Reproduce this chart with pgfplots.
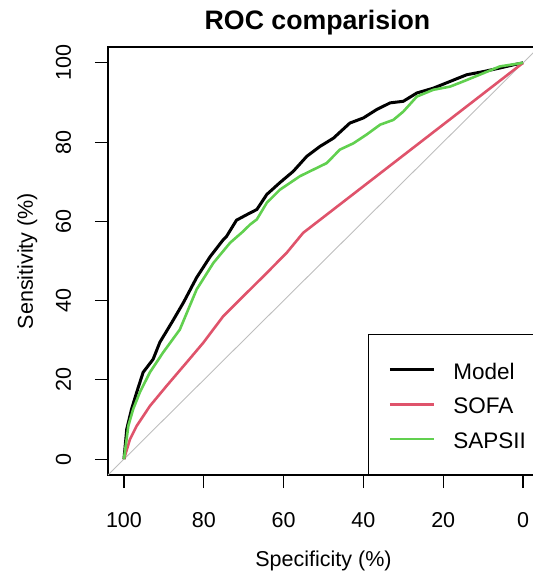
\documentclass[border=0pt]{standalone}
\usepackage{pgfplots}
\pgfplotsset{compat=1.18}
\usepackage{fontspec}
\setmainfont{Liberation Sans}
\definecolor{rred}{HTML}{DF536B}
\definecolor{rgreen}{HTML}{61D04F}
\definecolor{rgrey}{HTML}{BEBEBE}
\begin{document}
\begin{tikzpicture}[x=1pt,y=1pt]
\begin{axis}[
  at={(108pt,102pt)}, anchor=south west,
  scale only axis, width=431pt, height=428pt,
  xmin=-4, xmax=104, ymin=-4, ymax=104,
  x dir=reverse,
  axis line style={line width=1.2pt},
  xtick={100,80,60,40,20,0}, ytick={0,20,40,60,80,100},
  xtick pos=bottom, ytick pos=left,
  tick align=outside, major tick length=13pt,
  every tick/.style={black, line width=1.2pt},
  /pgf/number format/assume math mode=true,
  ticklabel style={font=\fontsize{21.5}{25}\selectfont},
  xticklabel style={anchor=base, yshift=-39pt},
  yticklabel style={rotate=90, anchor=base, yshift=24pt},
  xlabel={Specificity (\%)},
  ylabel={Sensitivity (\%)},
  label style={font=\fontsize{21.5}{25}\selectfont},
  xlabel style={at={(axis description cs:0.5,0)}, anchor=base, yshift=-91pt},
  ylabel style={at={(axis description cs:0,0.5)}, anchor=base, yshift=75pt},
  title={ROC comparision},
  title style={at={(axis description cs:0.486,1)}, anchor=base, yshift=11.5pt, font=\fontsize{26.7}{30}\selectfont\bfseries},
  legend cell align=left,
  legend image code/.code={\path (0pt,0pt); \draw[#1] (7pt,0pt) -- (51pt,0pt);},
  legend style={at={(axis description cs:1,0)}, anchor=south east, draw=black, line width=1.1pt,
    fill=white, inner xsep=12.5pt, inner ysep=20pt, row sep=3.5pt,
    font=\fontsize{22.5}{26}\selectfont,
    nodes={inner sep=0pt, text height=24.8pt, text depth=6.2pt},
    /tikz/every odd column/.append style={column sep=18pt}},
]
\addplot[rgrey, line width=0.9pt, forget plot] coordinates {(104,-4) (-4,104)};
\addplot[black, line width=3pt] coordinates {
(100,0) (99.3,7.6) (98.1,12.6) (96.8,16.9) (95.2,21.9) (92.7,25.2) (91.0,29.5)
(88.0,34.5) (85.1,39.5) (81.8,45.8) (78.4,51.1) (75.1,55.4) (74.3,56.2) (71.8,60.3)
(69.2,61.7) (66.7,63.0) (64.2,66.8) (60.9,69.8) (57.6,72.6) (54.2,76.4) (50.9,78.9)
(47.5,81.0) (43.4,84.8) (40.0,86.1) (36.7,88.2) (33.3,89.9) (30.0,90.3) (26.6,92.4)
(22.5,93.6) (18.3,95.3) (14.1,97.0) (9.9,97.8) (5.8,98.7) (2.4,99.5) (0,100)};
\addlegendentry{Model}
\addplot[rred, line width=2.6pt] coordinates {
(100,0) (98.5,5.0) (96.8,8.4) (93.5,13.4) (89.3,18.5) (84.3,24.4) (80.1,29.4)
(75.1,36.1) (70.1,41.1) (64.2,47.0) (59.2,52.1) (55.1,57.1) (0,100)};
\addlegendentry{SOFA}
\addplot[rgreen, line width=2.6pt] coordinates {
(100,0) (98.9,8.4) (97.7,12.6) (96.0,16.9) (93.5,21.9) (90.2,26.9) (86.0,32.7)
(81.8,42.8) (77.6,49.5) (73.4,54.6) (70.1,57.5) (68.4,59.2) (66.7,60.5) (64.2,64.7)
(60.9,68.0) (55.9,71.4) (49.2,74.7) (45.9,78.1) (42.5,79.7) (39.2,81.9) (35.8,84.4)
(32.5,85.6) (30.0,87.7) (26.6,91.5) (22.5,93.2) (18.3,94.0) (15.0,95.3) (9.9,97.4)
(5.8,99.1) (0,100)};
\addlegendentry{SAPSII}
\end{axis}
\pgfresetboundingbox
\useasboundingbox (0,0) rectangle (532pt,577pt);
\end{tikzpicture}
\end{document}
